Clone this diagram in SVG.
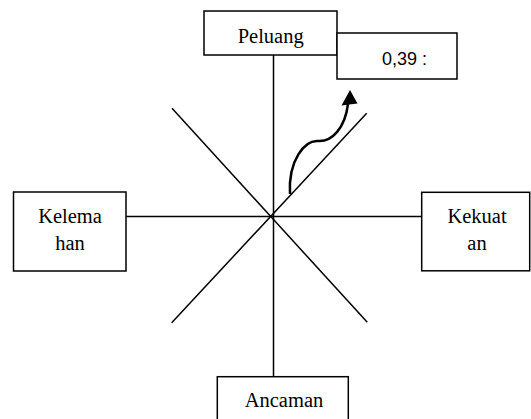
<svg xmlns="http://www.w3.org/2000/svg" width="531" height="419" viewBox="0 0 531 419">
<style>
.box{fill:#fff;stroke:#000;stroke-width:1.5}
.ln{stroke:#000;stroke-width:1.5;fill:none}
.t{font-family:"Liberation Serif","Times New Roman",serif;font-size:20.5px;fill:#000;text-anchor:middle}
.s{font-family:"Liberation Sans",Arial,sans-serif;font-size:18px;fill:#000}
</style>
<rect width="531" height="419" fill="#fff"/>
<g id="connectors">
<line class="ln" x1="273.5" y1="55" x2="273.5" y2="377"/>
<line class="ln" x1="126" y1="216.5" x2="422" y2="216.5"/>
<line class="ln" x1="172" y1="108.3" x2="367.3" y2="322.3"/>
<line class="ln" x1="366.7" y1="113.3" x2="171.7" y2="322.7"/>
<path d="M290,194 C288,160 305,140 318,141 C332,142 345,128 348,104" fill="none" stroke="#000" stroke-width="2.5"/>
<polygon points="350,90 341.5,105.5 357.5,103.5" fill="#000"/>
</g>
<g id="peluang">
<rect class="box" x="204" y="11" width="133" height="44"/>
<text class="t" x="270.7" y="42.7">Peluang</text>
</g>
<g id="nilai">
<rect class="box" x="337" y="33" width="120" height="46"/>
<text class="s" x="382" y="65">0,39 :</text>
</g>
<g id="kelemahan">
<rect class="box" x="13.5" y="192" width="112.5" height="79"/>
<text class="t" x="70" y="222.7">Kelema</text>
<text class="t" x="70" y="250">han</text>
</g>
<g id="kekuatan">
<rect class="box" x="421.7" y="192.3" width="108" height="78.5"/>
<text class="t" x="477" y="222.7">Kekuat</text>
<text class="t" x="477" y="250">an</text>
</g>
<g id="ancaman">
<rect class="box" x="217.3" y="376.7" width="131" height="60"/>
<text class="t" x="284" y="406.7">Ancaman</text>
</g>
</svg>
